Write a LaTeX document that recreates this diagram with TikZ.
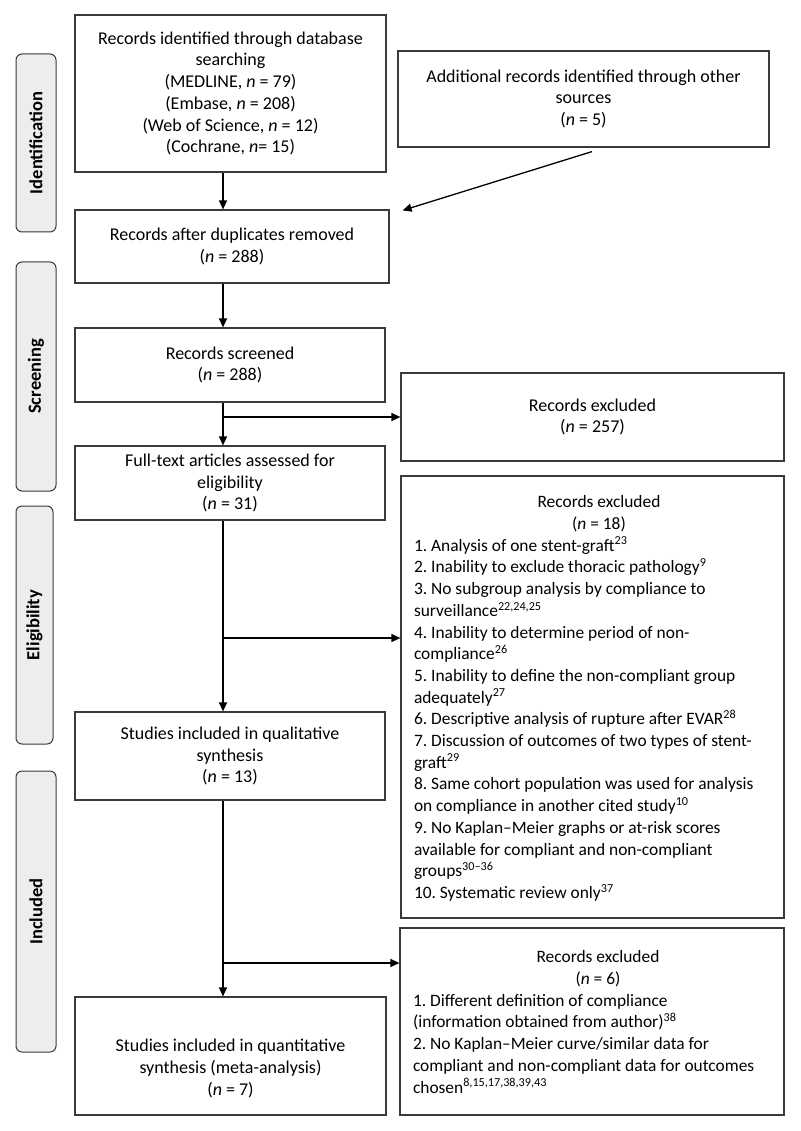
\documentclass[tikz,border=0pt]{standalone}
\usepackage{fontspec}
\setmainfont{Carlito}
\usetikzlibrary{arrows.meta}
\definecolor{boxline}{HTML}{3A3A3A}
\definecolor{sidefill}{HTML}{EDEDED}
\tikzset{
  mainfont/.style={font=\fontsize{18}{21.7}\selectfont\frenchspacing},
  flowbox/.style={draw=boxline, line width=1.2pt, rectangle, align=center, inner sep=0pt, mainfont},
  listbox/.style={draw=boxline, line width=1.2pt, rectangle, inner sep=0pt, mainfont},
  listtext/.style={text width=370pt, align=flush left, inner sep=0pt,
    font=\fontsize{17.4}{21.7}\selectfont\frenchspacing},
  plaintext/.style={align=center, inner sep=0pt, mainfont},
  sidebox/.style={draw=boxline, fill=sidefill, line width=1pt, rounded corners=6pt, rotate=90,
    inner sep=0pt, font=\fontsize{18.5}{20}\selectfont\bfseries},
  arr/.style={draw=black, line width=1.3pt, -{Triangle[length=9pt,width=8pt]}},
}
\newcommand{\nn}{\textit{n}}
\newcommand{\hdr}[1]{\hbox to \linewidth{\hfil #1\hfil}}
\begin{document}
\begin{tikzpicture}[x=1pt,y=-1pt]
\useasboundingbox (0,0) rectangle (800,1131);

% side labels
\node[sidebox, minimum width=178pt, minimum height=40pt] (sid) at (36,143) {Identification};
\node[sidebox, minimum width=229pt, minimum height=40pt] (sscr) at (36,376.5) {Screening};
\node[sidebox, minimum width=238pt, minimum height=37pt] (selig) at (34.5,625) {Eligibility};
\node[sidebox, minimum width=281pt, minimum height=40pt] (sinc) at (36,911.5) {Included};

% main boxes
\node[flowbox, minimum width=311pt, minimum height=157pt] (A) at (230.5,93.5)
  {Records identified through database\\searching\\(MEDLINE, \nn{} = 79)\\(Embase, \nn{} = 208)\\(Web of Science, \nn{} = 12)\\(Cochrane, \nn= 15)};
\node[flowbox, minimum width=371pt, minimum height=96pt] (B) at (583.5,99)
  {Additional records identified through other\\sources\\(\nn{} = 5)};
\node[flowbox, minimum width=314pt, minimum height=73pt] (C) at (232,246.5)
  {Records after duplicates removed\\(\nn{} = 288)};
\node[flowbox, minimum width=310pt, minimum height=74pt] (D) at (230,365)
  {Records screened\\(\nn{} = 288)};
\node[flowbox, minimum width=383pt, minimum height=88pt] (E) at (592.5,417)
  {Records excluded\\(\nn{} = 257)};
\node[flowbox, minimum width=310pt, minimum height=74pt] (F) at (230,483)
  {Full-text articles assessed for\\eligibility\\(\nn{} = 31)};
\node[listbox, minimum width=383pt, minimum height=442pt] (G) at (592.5,697) {};
\node[listtext] (Gt) at (599,698.5) {%
  \hdr{Records excluded}
  \hdr{(\nn{} = 18)}
  1. Analysis of one stent-graft\textsuperscript{23}\\
  2. Inability to exclude thoracic pathology\textsuperscript{9}\\
  3. No subgroup analysis by compliance to\\
  surveillance\textsuperscript{22,24,25}\\
  4. Inability to determine period of non-\\
  compliance\textsuperscript{26}\\
  5. Inability to define the non-compliant group\\
  adequately\textsuperscript{27}\\
  6. Descriptive analysis of rupture after EVAR\textsuperscript{28}\\
  7. Discussion of outcomes of two types of stent-\\
  graft\textsuperscript{29}\\
  8. Same cohort population was used for analysis\\
  on compliance in another cited study\textsuperscript{10}\\
  9. No Kaplan–Meier graphs or at-risk scores\\
  available for compliant and non-compliant\\
  groups\textsuperscript{30–36}\\
  10. Systematic review only\textsuperscript{37}};
\node[flowbox, minimum width=310pt, minimum height=88pt] (H) at (230,756)
  {Studies included in qualitative\\synthesis\\(\nn{} = 13)};
\node[listbox, minimum width=384pt, minimum height=187pt] (I) at (592,1021.5) {};
\node[listtext] (It) at (598,1022) {%
  \hdr{Records excluded}
  \hdr{(\nn{} = 6)}
  1. Different definition of compliance\\
  (information obtained from author)\textsuperscript{38}\\
  2. No Kaplan–Meier curve/similar data for\\
  compliant and non-compliant data for outcomes\\
  chosen\textsuperscript{8,15,17,38,39,43}};
\node[listbox, minimum width=311pt, minimum height=118pt] (J) at (230.5,1056) {};
\node[plaintext] (Jt) at (230.5,1068.5)
  {Studies included in quantitative\\synthesis (meta-analysis)\\(\nn{} = 7)};

% connectors
\coordinate (tx) at (223,0);
\coordinate (b2) at (223,638);
\coordinate (b3) at (223,963);
\draw[arr] (A.south -| tx) -- (C.north -| tx);
\draw[arr] (C.south -| tx) -- (D.north -| tx);
\draw[arr] (D.south -| tx) -- (F.north -| tx);
\draw[arr] (tx |- E.west) -- (E.west);
\draw[arr] (F.south -| tx) -- (H.north -| tx);
\draw[arr] (b2) -- (b2 -| G.west);
\draw[arr] (H.south -| tx) -- (J.north -| tx);
\draw[arr] (b3) -- (b3 -| I.west);
\draw[arr] ([xshift=8.5pt,yshift=-4pt]B.south) -- ([xshift=13pt,yshift=-1pt]C.north east);
\end{tikzpicture}
\end{document}
